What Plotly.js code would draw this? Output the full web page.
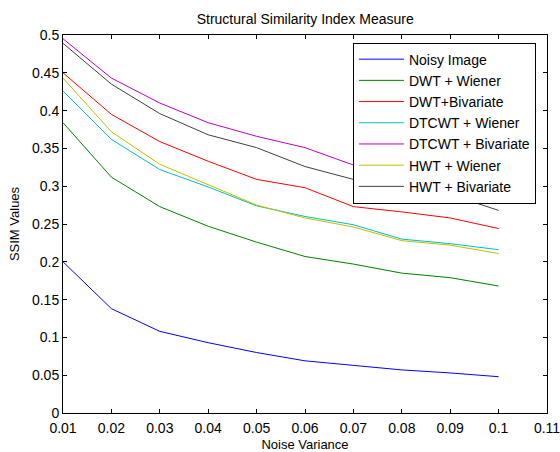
<!DOCTYPE html>
<html>
<head>
<meta charset="utf-8">
<script src="https://cdn.plot.ly/plotly-3.0.1.min.js"></script>
<style>html,body{margin:0;padding:0;background:#fff;}#chart{width:560px;height:452px;}</style>
</head>
<body>
<div id="chart"></div>
<script>
const noiseVariance = [0.01, 0.02, 0.03, 0.04, 0.05, 0.06, 0.07, 0.08, 0.09, 0.1];
const seriesNames = ["Noisy Image", "DWT + Wiener", "DWT+Bivariate", "DTCWT + Wiener", "DTCWT + Bivariate", "HWT + Wiener", "HWT + Bivariate"];
const noisyImage = [0.200, 0.138, 0.108, 0.093, 0.080, 0.069, 0.063, 0.057, 0.053, 0.048];
const dwtWiener = [0.384, 0.312, 0.273, 0.247, 0.226, 0.207, 0.197, 0.185, 0.179, 0.168];
const dwtBivariate = [0.450, 0.395, 0.359, 0.333, 0.309, 0.298, 0.273, 0.266, 0.258, 0.244];
const dtcwtWiener = [0.426, 0.362, 0.322, 0.299, 0.274, 0.260, 0.249, 0.230, 0.224, 0.216];
const dtcwtBivariate = [0.495, 0.443, 0.410, 0.384, 0.366, 0.351, 0.328, 0.315, 0.306, 0.298];
const hwtWiener = [0.443, 0.372, 0.329, 0.302, 0.275, 0.258, 0.246, 0.228, 0.222, 0.211];
const hwtBivariate = [0.489, 0.435, 0.396, 0.368, 0.351, 0.326, 0.309, 0.299, 0.289, 0.268];
const xTickVals = [0.01, 0.02, 0.03, 0.04, 0.05, 0.06, 0.07, 0.08, 0.09, 0.1, 0.11];
const xTickText = ["0.01", "0.02", "0.03", "0.04", "0.05", "0.06", "0.07", "0.08", "0.09", "0.1", "0.11"];
const yTickVals = [0, 0.05, 0.1, 0.15, 0.2, 0.25, 0.3, 0.35, 0.4, 0.45, 0.5];
const yTickText = ["0", "0.05", "0.1", "0.15", "0.2", "0.25", "0.3", "0.35", "0.4", "0.45", "0.5"];

const allSeries = [noisyImage, dwtWiener, dwtBivariate, dtcwtWiener, dtcwtBivariate, hwtWiener, hwtBivariate];
const colors = ["#0000ff", "#008000", "#ff0000", "#00bfbf", "#bf00bf", "#bfbf00", "#404040"];

const traces = allSeries.map((ys, i) => ({
  x: noiseVariance, y: ys, type: "scatter", mode: "lines", name: seriesNames[i],
  line: {color: colors[i], width: 1}
}));

const font = {family: "Liberation Sans, Arial, sans-serif", size: 13, color: "#000"};
const axisCommon = {
  showgrid: false, zeroline: false, showline: true, linecolor: "#000", linewidth: 1,
  mirror: "ticks", ticks: "inside", ticklen: 4, tickcolor: "#000", tickfont: {size: 14},
  ticklabeloverflow: "allow"
};
const layout = {
  width: 560, height: 452,
  margin: {l: 63, r: 13, t: 35, b: 39},
  paper_bgcolor: "#fff", plot_bgcolor: "#fff",
  font: font,
  title: {text: "Structural Similarity Index Measure", font: {size: 14}, x: 0.545, xanchor: "center", y: 0.958, yanchor: "middle"},
  xaxis: Object.assign({}, axisCommon, {range: [0.01, 0.11], tickvals: xTickVals, ticktext: xTickText,
    ticklabelstandoff: 2,
    title: {text: "Noise Variance", font: {size: 13}, standoff: 8}}),
  yaxis: Object.assign({}, axisCommon, {range: [0, 0.5], tickvals: yTickVals, ticktext: yTickText,
    title: {text: "SSIM Values", font: {size: 13}, standoff: 9}}),
  showlegend: true,
  legend: {x: 0.599, y: 0.98, xanchor: "left", yanchor: "top", bordercolor: "#000", borderwidth: 1,
    bgcolor: "#fff", font: {size: 14}, tracegroupgap: 0, itemwidth: 45}
};
Plotly.newPlot("chart", traces, layout, {displayModeBar: false, staticPlot: true});
</script>
</body>
</html>
